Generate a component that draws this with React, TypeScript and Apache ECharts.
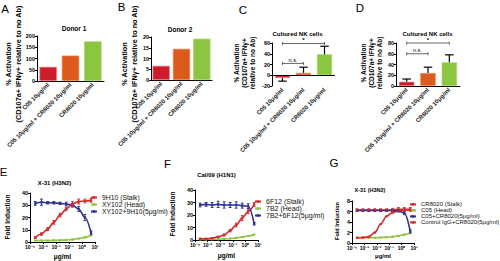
import React, { useEffect, useRef } from "react";
import * as echarts from "echarts";

const FONT = '"Liberation Sans", Arial, sans-serif';

// ---------- bar panels (A–D) ----------
const BAR_CATEGORIES = ["C05 10μg/ml", "C05 10μg/ml + CR8020 10μg/ml", "CR8020 10μg/ml"];
const BAR_COLORS = ["#cc1d2b", "#dc5a1c", "#8cc540"];
const BAR_EDGES = ["#ef7f86", "#e98a4f", "#a8d46a"];

const A_VALUES = [63, 113, 176];
const B_VALUES = [6.6, 14.5, 19.2];
const C_VALUES = [-5, 4.5, 39];
const C_ERR_END = [-11, 15, 54];
const D_VALUES = [8, 24, 44];
const D_ERR_END = [13, 35, 58];

// [from category, to category, level]
const C_BRACKETS = [[0, 1, 22], [0, 2, 59]];
const D_BRACKETS = [[0, 1, 60], [0, 2, 80]];
const BRACKET_LABELS = ["n.s.", "*"];

// axis ranges [min, max, interval]
const A_Y = [0, 200, 50];
const B_Y = [0, 20, 5];
const C_Y = [-20, 60, 20];
const D_Y = [0, 80, 20];
const E_Y = [0, 40, 10];
const F_Y = [0, 40, 10];
const G_Y = [0, 8, 2];

// ---------- dose–response panels (E–G) ----------
const LOG_TICK_LABELS = ["10⁻⁴", "10⁻³", "10⁻²", "10⁻¹", "10⁰", "10¹"];
const CONC = [0.000254, 0.000762, 0.00229, 0.00686, 0.0206, 0.0617, 0.185, 0.556, 1.667, 5];

const E_NAMES = ["9H10 (Stalk)", "XY102 (Head)", "XY102+9H10(5μg/ml)"];
const E_STALK = [3.6, 6.5, 10.5, 16, 22, 27, 31, 33, 33.5, 34];
const E_HEAD = [1.2, 1.2, 1.2, 1.3, 1.4, 1.6, 2, 2.8, 3.8, 5.5];
const E_COMBO = [31.5, 32.5, 32, 32, 31.5, 31, 30, 27, 20, 7.5];
const E_STALK_ERR = [0.6, 1, 1.2, 1.5, 1.5, 1.5, 2, 2, 1.5, 1.5];
const E_COMBO_ERR = [1.5, 2.5, 1, 1, 1, 1.5, 1.5, 2, 2.5, 1.5];

const F_NAMES = ["6F12 (Stalk)", "7B2 (Head)", "7B2+6F12(5μg/ml)"];
const F_STALK = [1, 1, 1.5, 2.5, 4, 7.5, 12, 17.5, 23, 28.5];
const F_HEAD = [0.5, 0.5, 0.6, 0.7, 0.9, 1.2, 1.7, 2.4, 3.2, 4.3];
const F_COMBO = [28, 28.5, 28, 28.5, 28, 28, 28, 27.5, 27, 13];
const F_STALK_ERR = [0.3, 0.3, 0.4, 0.5, 0.8, 1, 1.5, 2, 2, 1.5];
const F_COMBO_ERR = [1.5, 1.5, 2, 2.5, 2.5, 2, 2.5, 2, 2, 1];

const G_NAMES = ["CR8020 (Stalk)", "C05 (Head)", "C05+CR8020(5μg/ml)", "Control IgG+CR8020(5μg/ml)"];
const G_STALK = [1.0, 1.05, 1.2, 2.0, 3.6, 5.1, 5.8, 6.1, 6.3, 6.3];
const G_HEAD = [1.0, 1.0, 1.0, 1.0, 1.05, 1.1, 1.2, 1.35, 1.6, 1.9];
const G_COMBO = [6.2, 6.2, 6.2, 6.2, 6.2, 6.2, 6.2, 6.1, 5.7, 2.2];
const G_CTRL = [6.3, 6.3, 6.3, 6.3, 6.3, 6.3, 6.3, 6.4, 6.4, 6.4];
const G_COMBO_ERR = [0.2, 0.2, 0.2, 0.2, 0.2, 0.2, 0.2, 0.2, 0.3, 0.3];
const G_CTRL_ERR = [0.2, 0.2, 0.2, 0.2, 0.2, 0.2, 0.3, 0.35, 0.35, 0.35];

const RED = "#d42a2a";
const GREEN = "#8cc540";
const BLUE = "#2e3192";

// ---------- helpers ----------
function textStyle(text: string, font: string, align = "center", valign = "middle", lineHeight?: number) {
  const s: any = {
    text,
    font,
    fill: "#000",
    textAlign: align,
    align,
    textVerticalAlign: valign,
    verticalAlign: valign,
  };
  if (lineHeight) s.lineHeight = lineHeight;
  return s;
}

function gText(text: string, x: number, y: number, font: string, rotate = false, lineHeight?: number) {
  return {
    type: "text",
    x,
    y,
    rotation: rotate ? Math.PI / 2 : 0,
    silent: true,
    style: textStyle(text, font, "center", "middle", lineHeight),
  };
}

function barErrorItem(params: any, api: any) {
  const x = api.value(0);
  const p1 = api.coord([x, api.value(1)]);
  const p2 = api.coord([x, api.value(2)]);
  const half = api.size([1, 0])[0] * 0.2;
  const st = { stroke: "#000", lineWidth: 1.2 };
  return {
    type: "group",
    children: [
      { type: "line", shape: { x1: p1[0], y1: p1[1], x2: p2[0], y2: p2[1] }, style: st },
      { type: "line", shape: { x1: p2[0] - half, y1: p2[1], x2: p2[0] + half, y2: p2[1] }, style: st },
    ],
  };
}

function bracketItem(params: any, api: any) {
  const lvl = api.value(2);
  const a = api.coord([api.value(0), lvl]);
  const b = api.coord([api.value(1), lvl]);
  const label = BRACKET_LABELS[params.dataIndex];
  const st = { stroke: "#555", lineWidth: 0.9 };
  return {
    type: "group",
    children: [
      { type: "line", shape: { x1: a[0], y1: a[1], x2: b[0], y2: b[1] }, style: st },
      { type: "line", shape: { x1: a[0], y1: a[1] - 1.5, x2: a[0], y2: a[1] + 1.5 }, style: st },
      { type: "line", shape: { x1: b[0], y1: b[1] - 1.5, x2: b[0], y2: b[1] + 1.5 }, style: st },
      {
        type: "text",
        x: (a[0] + b[0]) / 2,
        y: a[1] - 0.3,
        style: textStyle(label, label === "*" ? "bold 6px " + FONT : "5.5px " + FONT, "center", "bottom"),
      },
    ],
  };
}

function makeLineErrItem(color: string) {
  return (params: any, api: any) => {
    const x = api.value(0);
    const lo = api.coord([x, api.value(1)]);
    const hi = api.coord([x, api.value(2)]);
    const st = { stroke: color, lineWidth: 1 };
    return {
      type: "group",
      children: [
        { type: "line", shape: { x1: lo[0], y1: lo[1], x2: hi[0], y2: hi[1] }, style: st },
        { type: "line", shape: { x1: hi[0] - 1.4, y1: hi[1], x2: hi[0] + 1.4, y2: hi[1] }, style: st },
        { type: "line", shape: { x1: lo[0] - 1.4, y1: lo[1], x2: lo[0] + 1.4, y2: lo[1] }, style: st },
      ],
    };
  };
}

function yAxis(gi: number, range: number[], fs = 5.5) {
  return {
    type: "value",
    gridIndex: gi,
    min: range[0],
    max: range[1],
    interval: range[2],
    splitLine: { show: false },
    axisLine: { show: true, lineStyle: { color: "#000", width: 1 } },
    axisTick: { show: true, length: 2, lineStyle: { color: "#000", width: 1 } },
    axisLabel: { fontSize: fs, fontWeight: "bold", color: "#000", margin: 2, fontFamily: FONT },
  };
}

function xCat(gi: number, showLine: boolean) {
  return {
    type: "category",
    gridIndex: gi,
    data: BAR_CATEGORIES,
    axisLine: { show: showLine, onZero: false, lineStyle: { color: "#000", width: 1 } },
    axisTick: { show: false },
    axisLabel: {
      rotate: 45,
      interval: 0,
      fontSize: 6,
      fontWeight: "bold",
      color: "#1a1a1a",
      margin: 3,
      fontFamily: FONT,
    },
  };
}

function xLog(gi: number) {
  return {
    type: "log",
    gridIndex: gi,
    logBase: 10,
    min: 1e-4,
    max: 10,
    splitLine: { show: false },
    axisLine: { show: true, onZero: false, lineStyle: { color: "#000", width: 1 } },
    axisTick: { show: true, length: 2, lineStyle: { color: "#000", width: 1 } },
    axisLabel: {
      fontSize: 5,
      fontWeight: "bold",
      color: "#000",
      margin: 2.5,
      fontFamily: FONT,
      showMinLabel: true,
      showMaxLabel: true,
      formatter: (v: number) => LOG_TICK_LABELS[Math.round(Math.log10(v)) + 4] ?? "",
    },
  };
}

function barSeries(gi: number, values: number[], width: string, extra: any = {}) {
  return {
    type: "bar",
    xAxisIndex: gi,
    yAxisIndex: gi,
    barWidth: width,
    silent: true,
    data: values.map((v, i) => ({
      value: v,
      itemStyle: { color: BAR_COLORS[i], borderColor: BAR_EDGES[i], borderWidth: 0.7 },
    })),
    ...extra,
  };
}

function barErrSeries(gi: number, values: number[], ends: number[]) {
  return {
    type: "custom",
    xAxisIndex: gi,
    yAxisIndex: gi,
    silent: true,
    z: 4,
    encode: { x: 0, y: [1, 2] },
    data: values.map((v, i) => [i, v, ends[i]]),
    renderItem: barErrorItem,
  };
}

function bracketSeries(gi: number, brackets: number[][]) {
  return {
    type: "custom",
    xAxisIndex: gi,
    yAxisIndex: gi,
    silent: true,
    z: 4,
    encode: { x: [0, 1], y: 2 },
    data: brackets,
    renderItem: bracketItem,
  };
}

function lineSeries(name: string, gi: number, ys: number[], color: string, z = 2) {
  return {
    type: "line",
    name,
    xAxisIndex: gi,
    yAxisIndex: gi,
    data: CONC.map((c, i) => [c, ys[i]]),
    smooth: 0.35,
    smoothMonotone: "x",
    symbol: "rect",
    symbolSize: 2.2,
    showSymbol: true,
    silent: true,
    z,
    lineStyle: { width: 1.6, color },
    itemStyle: { color },
  };
}

function lineErrSeries(gi: number, ys: number[], errs: number[], color: string, z = 3) {
  return {
    type: "custom",
    xAxisIndex: gi,
    yAxisIndex: gi,
    silent: true,
    z,
    encode: { x: 0, y: [1, 2] },
    data: CONC.map((c, i) => [c, ys[i] - errs[i], ys[i] + errs[i]]),
    renderItem: makeLineErrItem(color),
  };
}

function legend(names: string[], left: number, top: number, lh: number, fs: number) {
  return {
    data: names,
    orient: "vertical",
    left,
    top,
    padding: 0,
    itemGap: 0,
    itemWidth: 6,
    itemHeight: 3,
    selectedMode: false,
    textStyle: { fontSize: fs, lineHeight: lh, color: "#111", fontFamily: FONT },
  };
}

function buildOption(): any {
  const grids = [
    { left: 37, top: 36, width: 67, height: 45 },
    { left: 151, top: 37, width: 61, height: 43 },
    { left: 272, top: 43, width: 63, height: 43 },
    { left: 396, top: 43, width: 64, height: 43 },
    { left: 30, top: 193, width: 65, height: 49 },
    { left: 195, top: 190, width: 63, height: 50 },
    { left: 352, top: 201, width: 62, height: 42 },
  ].map((g) => ({ ...g, outerBoundsMode: "none", containLabel: false }));

  const bold = (n: number) => `bold ${n}px ${FONT}`;
  const letter = `11.5px ${FONT}`;

  const graphic = [
    gText("A", 5, 9, letter),
    gText("B", 121.5, 6.5, letter),
    gText("C", 243, 9.5, letter),
    gText("D", 360, 7.5, letter),
    gText("E", 3.5, 171.5, letter),
    gText("F", 167.5, 163.5, letter),
    gText("G", 334, 162.5, letter),

    gText("Donor 1", 74, 28.5, bold(6.5)),
    gText("Donor 2", 180, 29, bold(6.5)),
    gText("Cultured NK cells", 297.5, 34, bold(6)),
    gText("Cultured NK cells", 427.5, 34, bold(6)),
    gText("X-31 (H3N2)", 54.5, 183, bold(6)),
    gText("Cal/09 (H1N1)", 216.5, 175, bold(6)),
    gText("X-31 (H3N2)", 370, 190, bold(5.5)),

    gText("% Activation\n(CD107a+ IFNγ+ relative to no Ab)", 13.5, 64, bold(7.3), true, 10.5),
    gText("% Activation\n(CD107a+ IFNγ+ relative to no Ab)", 129.5, 64, bold(7.3), true, 10.5),
    gText("% Activation\n(CD107a+ IFNγ+\nrelative to no Ab)", 244, 63, bold(6.5), true, 8),
    gText("% Activation\n(CD107a+ IFNγ+\nrelative to no Ab)", 371, 63, bold(6.5), true, 8),

    gText("Fold Induction", 7, 217, bold(6.5), true),
    gText("Fold Induction", 172, 214, bold(6.5), true),
    gText("Fold Induction", 337, 221, bold(5.5), true),

    gText("μg/ml", 62.5, 256, bold(6.5)),
    gText("μg/ml", 226.5, 255.5, bold(6.5)),
    gText("μg/ml", 383, 255.5, bold(6)),
  ];

  return {
    animation: false,
    backgroundColor: "#fff",
    textStyle: { fontFamily: FONT },
    grid: grids,
    xAxis: [xCat(0, true), xCat(1, true), xCat(2, false), xCat(3, true), xLog(4), xLog(5), xLog(6)],
    yAxis: [
      yAxis(0, A_Y),
      yAxis(1, B_Y),
      yAxis(2, C_Y),
      yAxis(3, D_Y),
      yAxis(4, E_Y),
      yAxis(5, F_Y),
      yAxis(6, G_Y),
    ],
    legend: [
      legend(E_NAMES, 90, 194, 6, 6.8),
      legend(F_NAMES, 254, 198, 6, 7),
      legend(G_NAMES, 409, 201.4, 5.3, 6),
    ],
    graphic,
    series: [
      barSeries(0, A_VALUES, "78%"),
      barSeries(1, B_VALUES, "85%"),
      barSeries(2, C_VALUES, "72%", {
        markLine: {
          silent: true,
          symbol: "none",
          label: { show: false },
          lineStyle: { color: "#000", width: 1, type: "solid" },
          data: [{ yAxis: 0 }],
        },
      }),
      barErrSeries(2, C_VALUES, C_ERR_END),
      bracketSeries(2, C_BRACKETS),
      barSeries(3, D_VALUES, "72%"),
      barErrSeries(3, D_VALUES, D_ERR_END),
      bracketSeries(3, D_BRACKETS),

      lineSeries(E_NAMES[1], 4, E_HEAD, GREEN, 2),
      lineSeries(E_NAMES[2], 4, E_COMBO, BLUE, 3),
      lineSeries(E_NAMES[0], 4, E_STALK, RED, 4),
      lineErrSeries(4, E_COMBO, E_COMBO_ERR, BLUE, 5),
      lineErrSeries(4, E_STALK, E_STALK_ERR, RED, 5),

      lineSeries(F_NAMES[1], 5, F_HEAD, GREEN, 2),
      lineSeries(F_NAMES[0], 5, F_STALK, RED, 3),
      lineSeries(F_NAMES[2], 5, F_COMBO, BLUE, 4),
      lineErrSeries(5, F_STALK, F_STALK_ERR, RED, 5),
      lineErrSeries(5, F_COMBO, F_COMBO_ERR, BLUE, 5),

      lineSeries(G_NAMES[1], 6, G_HEAD, GREEN, 2),
      lineSeries(G_NAMES[3], 6, G_CTRL, RED, 3),
      lineSeries(G_NAMES[0], 6, G_STALK, RED, 4),
      lineSeries(G_NAMES[2], 6, G_COMBO, BLUE, 5),
      lineErrSeries(6, G_COMBO, G_COMBO_ERR, BLUE, 6),
      lineErrSeries(6, G_CTRL, G_CTRL_ERR, RED, 6),
    ],
  };
}

export default function App() {
  const ref = useRef<HTMLDivElement>(null);
  useEffect(() => {
    if (!ref.current) return;
    const chart = echarts.init(ref.current, null, { renderer: "svg" });
    chart.setOption(buildOption());
    return () => chart.dispose();
  }, []);
  return (
    <div
      ref={ref}
      style={{ position: "absolute", left: 0, top: 0, width: 500, height: 261, background: "#fff" }}
    />
  );
}
